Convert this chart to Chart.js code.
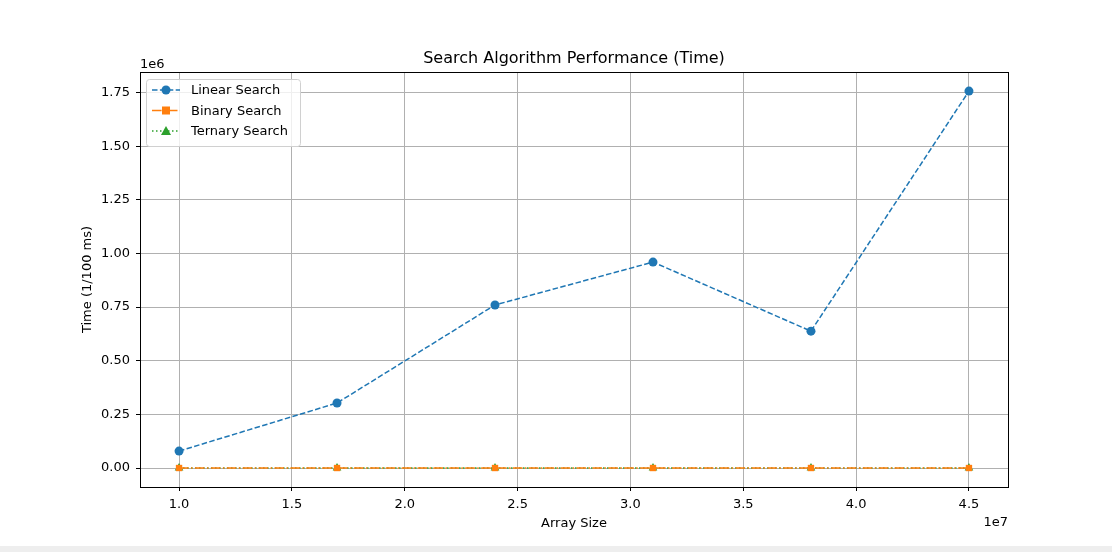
<!DOCTYPE html>
<html><head><meta charset="utf-8">
<script src="https://cdn.jsdelivr.net/npm/chart.js@4"></script>
<style>html,body{margin:0;padding:0;background:#fff}#w{width:1112px;height:552px;position:relative}#bar{position:absolute;left:0;bottom:0;width:1112px;height:6px;background:#eee}</style>
</head><body><div id="w"><canvas id="c" width="1112" height="552"></canvas><div id="bar"></div></div>
<script>
const sizes=[1.0e7,1.7e7,2.4e7,3.1e7,3.8e7,4.5e7];
const linear=[0.079e6,0.303e6,0.76e6,0.96e6,0.638e6,1.757e6];
const binary=[22,24,25,25,26,26];
const ternary=[20,21,22,22,23,23];
const F='"DejaVu Sans", sans-serif';
const mk=(arr)=>arr.map((v,i)=>({x:sizes[i],y:v}));
const series=[
 {label:'Linear Search',data:mk(linear),c:'#1f77b4',dash:[5.5,2.4],pt:'circle',r:4.5},
 {label:'Binary Search',data:mk(binary),c:'#ff7f0e',dash:[9.6,2.4,1.5,2.4],pt:'rect',r:4.5},
 {label:'Ternary Search',data:mk(ternary),c:'#2ca02c',dash:[1.5,2.5],pt:'triangle',r:5}
];
const deco={id:'deco',afterDraw(ch){const g=ch.ctx,a=ch.chartArea;g.save();
 g.strokeStyle='#000';g.lineWidth=1;g.strokeRect(a.left+.5,a.top+.5,a.right-a.left,a.bottom-a.top);
 g.fillStyle='#000';g.font='16px '+F;g.textAlign='center';g.textBaseline='alphabetic';
 g.fillText('Search Algorithm Performance (Time)',(a.left+a.right)/2,63);
 g.font='13px '+F;g.fillText('Array Size',(a.left+a.right)/2,527);
 g.textAlign='right';g.fillText('1e7',a.right,526);
 g.textAlign='left';g.fillText('1e6',a.left,68);
 g.save();g.translate(91,(a.top+a.bottom)/2);g.rotate(-Math.PI/2);g.textAlign='center';g.fillText('Time (1/100 ms)',0,0);g.restore();
 // legend
 const lx=146,ly=79,lw=154,lh=67;
 g.fillStyle='rgba(255,255,255,0.8)';g.strokeStyle='#d0d0d0';g.beginPath();g.roundRect(lx+.5,ly+.5,lw,lh,3);g.fill();g.stroke();
 series.forEach((s,i)=>{const y=ly+11+i*20.5;g.strokeStyle=s.c;g.lineWidth=1.5;g.setLineDash(s.dash);
  g.beginPath();g.moveTo(lx+6,y);g.lineTo(lx+34,y);g.stroke();g.setLineDash([]);g.fillStyle=s.c;
  if(s.pt==='circle'){g.beginPath();g.arc(lx+20,y,4.5,0,7);g.fill();}
  else if(s.pt==='rect'){g.fillRect(lx+16,y-4,8,8);}
  else{g.beginPath();g.moveTo(lx+20,y-5);g.lineTo(lx+25,y+4);g.lineTo(lx+15,y+4);g.closePath();g.fill();}
  g.fillStyle='#000';g.font='13px '+F;g.textAlign='left';g.textBaseline='middle';g.fillText(s.label,lx+45,y+1);});
 g.restore();}};
new Chart(document.getElementById('c'),{type:'line',
 data:{datasets:series.map(s=>({label:s.label,data:s.data,borderColor:s.c,backgroundColor:s.c,borderDash:s.dash,borderWidth:1.5,pointStyle:s.pt,pointRadius:s.r,pointBorderWidth:0,tension:0}))},
 options:{responsive:false,animation:false,layout:{padding:{top:72,right:104,left:0,bottom:0}},
  plugins:{legend:{display:false},tooltip:{enabled:false}},
  scales:{
   x:{type:'linear',min:0.827e7,max:4.673e7,afterFit(s){s.height=65;},
    afterBuildTicks(s){s.ticks=[1,1.5,2,2.5,3,3.5,4,4.5].map(v=>({value:v*1e7}));},
    ticks:{color:'#000',font:{family:F,size:13},callback:v=>(v/1e7).toFixed(1),maxRotation:0,padding:6},
    grid:{color:'#b0b0b0',tickLength:4,tickColor:'#000'},border:{display:false}},
   y:{min:-0.0885e6,max:1.846e6,afterFit(s){s.width=140;},
    afterBuildTicks(s){s.ticks=[0,0.25,0.5,0.75,1,1.25,1.5,1.75].map(v=>({value:v*1e6}));},
    ticks:{color:'#000',font:{family:F,size:13},callback:v=>(v/1e6).toFixed(2),padding:6},
    grid:{color:'#b0b0b0',tickLength:4,tickColor:'#000'},border:{display:false}}}},
 plugins:[deco]});
</script></body></html>
